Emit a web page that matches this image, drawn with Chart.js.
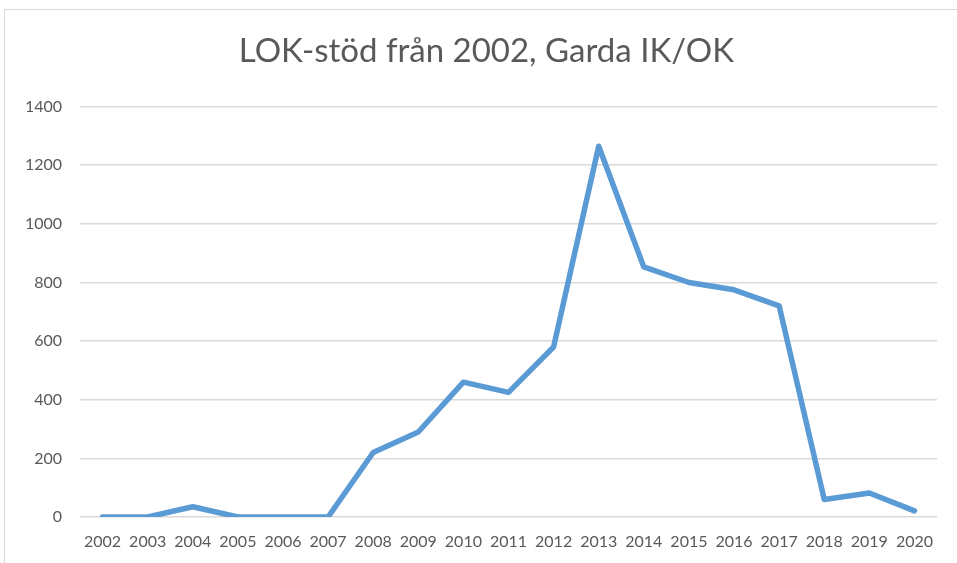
<!DOCTYPE html>
<html>
<head>
<meta charset="utf-8">
<script src="https://cdn.jsdelivr.net/npm/chart.js@4"></script>
<style>
  html, body { margin: 0; padding: 0; background: #fff; }
  #wrap { position: relative; width: 957px; height: 563px; overflow: hidden; }
  #frame { position: absolute; left: 4px; top: 9px; width: 1000px; height: 600px;
           border: 1.5px solid #d9d9d9; box-sizing: border-box; }
  canvas { position: absolute; left: 0; top: 0; }
</style>
</head>
<body>
<div id="wrap">
  <div id="frame"></div>
  <canvas id="lokChart" width="957" height="563"></canvas>
</div>
<script>
// years and LOK-stöd values
const years = ['2002', '2003', '2004', '2005', '2006', '2007', '2008', '2009', '2010', '2011',
               '2012', '2013', '2014', '2015', '2016', '2017', '2018', '2019', '2020'];
const lokValues = [0, 0, 35, 0, 0, 0, 220, 290, 460, 425, 580, 1265, 853, 800, 775, 720, 60, 82, 21];
const yTicks = [0, 200, 400, 600, 800, 1000, 1200, 1400];

const textColor = '#595959';
const fontFamily = 'Lato, "Open Sans", sans-serif';

// nudge the title so it sits centred over the frame, like the original
const shiftTitle = {
    id: 'shiftTitle',
    afterLayout: function (chart) {
        if (chart.titleBlock) chart.titleBlock.left = 36;
    }
};

var ctx = document.getElementById('lokChart').getContext('2d');
var lokChart = new Chart(ctx, {
    type: 'line',
    data: {
        labels: years,
        datasets: [{
            label: 'LOK-stöd',
            data: lokValues,
            borderColor: '#5b9bd5',
            borderWidth: 5.5,
            borderCapStyle: 'round',
            borderJoinStyle: 'round',
            pointRadius: 0,
            tension: 0,
            fill: false
        }]
    },
    options: {
        responsive: false,
        animation: false,
        layout: { padding: { left: 0, right: 20, top: 0, bottom: 0 } },
        plugins: {
            legend: { display: false },
            tooltip: { enabled: false },
            title: {
                display: true,
                text: 'LOK-stöd från 2002, Garda IK/OK',
                color: textColor,
                font: { family: fontFamily, size: 33, weight: 'normal' },
                padding: { top: 32, bottom: 35 }
            }
        },
        scales: {
            x: {
                offset: true,
                grid: { display: false },
                border: { display: false },
                ticks: {
                    color: textColor,
                    font: { family: fontFamily, size: 16 },
                    padding: 7,
                    maxRotation: 0,
                    autoSkip: false
                },
                afterFit: function (scale) { scale.height = 46; }
            },
            y: {
                min: 0,
                max: 1400,
                afterBuildTicks: function (scale) {
                    scale.ticks = yTicks.map(v => ({ value: v }));
                },
                grid: { color: '#d9d9d9', lineWidth: 1.5, drawTicks: false },
                border: { display: false },
                ticks: {
                    color: textColor,
                    font: { family: fontFamily, size: 16 },
                    padding: 18,
                    callback: function (value) { return String(value); }
                },
                afterFit: function (scale) { scale.width = 80; }
            }
        }
    },
    plugins: [shiftTitle]
});
</script>
</body>
</html>
